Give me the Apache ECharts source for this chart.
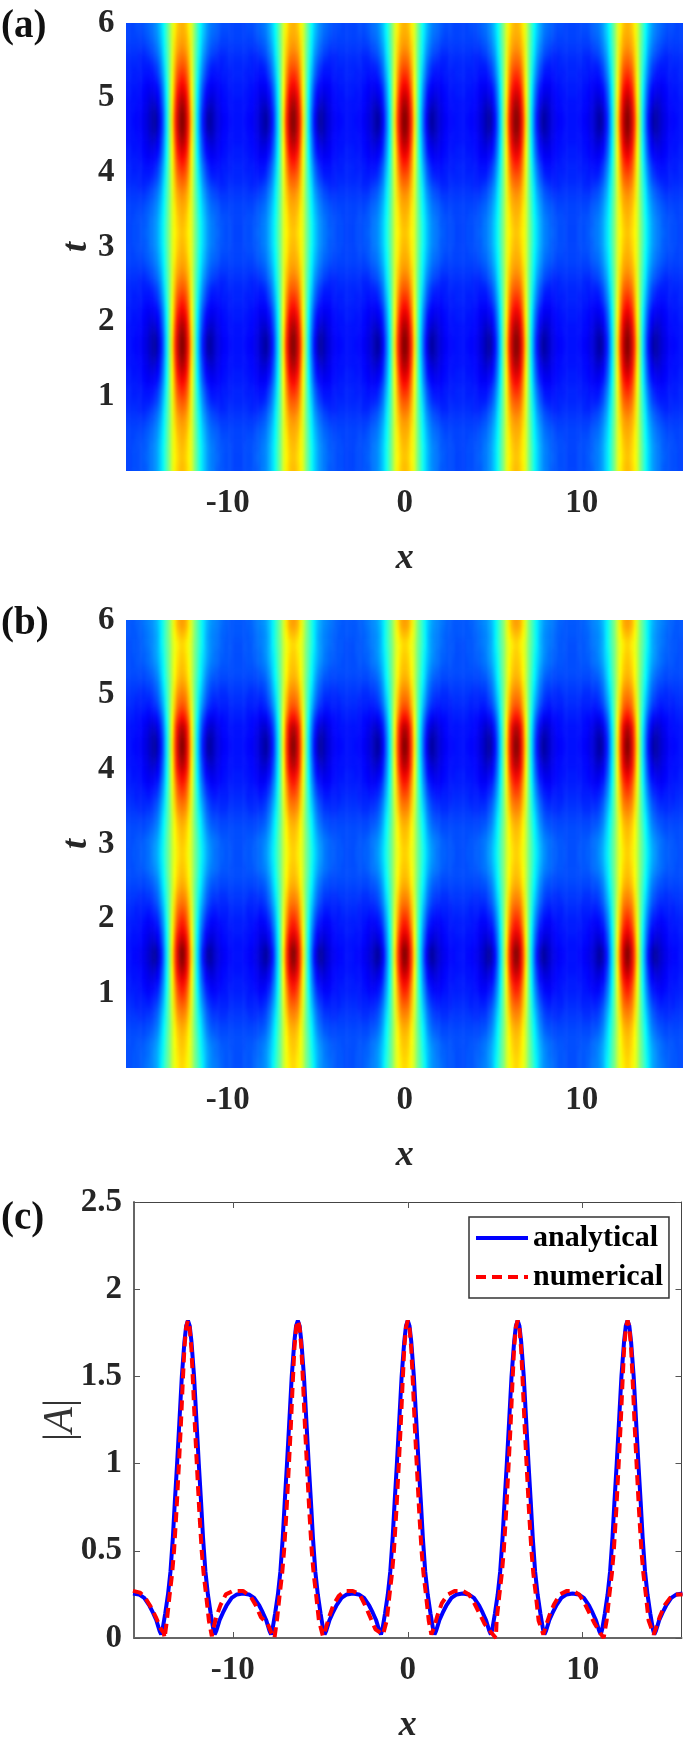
<!DOCTYPE html>
<html>
<head>
<meta charset="utf-8">
<style>
html, body { margin: 0; padding: 0; background: #fff; }
#page { position: relative; width: 685px; height: 1745px; }
#chart { position: absolute; left: 0; top: 0; width: 685px; height: 1745px; }
.clip { position: absolute; left: 126px; width: 557px; height: 448px; overflow: hidden; }
.heat { position: absolute; left: -5.5px; top: -18.5px; width: 568px; height: 485px; filter: url(#soft); }
</style>
<script src="https://cdn.jsdelivr.net/npm/echarts@6/dist/echarts.min.js"></script>
</head>
<body>
<svg width="0" height="0" style="position:absolute">
  <filter id="soft" x="0" y="0" width="100%" height="100%" color-interpolation-filters="sRGB">
    <feGaussianBlur stdDeviation="1 4"/>
  </filter>
</svg>
<div id="page">
  <div class="clip" style="top:23px"><div id="heatA" class="heat"></div></div>
  <div class="clip" style="top:620px"><div id="heatB" class="heat"></div></div>
  <div id="chart"></div>
</div>
<script>
// t of each heat row, top to bottom
var tRows = [5.94,5.81,5.69,5.56,5.44,5.31,5.19,5.06,4.94,4.81,4.69,4.56,4.44,4.31,4.19,4.06,3.94,3.81,3.69,3.56,3.44,3.31,3.19,3.06,2.94,2.81,2.69,2.56,2.44,2.31,2.19,2.06,1.94,1.81,1.69,1.56,1.44,1.31,1.19,1.06,0.94,0.81,0.69,0.56,0.44,0.31,0.19,0.06];

// heat level (0-100 on the jet scale), one row per t,
// going from a peak centre out to half way to the next peak
var heatA = [
[70,68,64,59,51,44,38,33,29,26,24,23,22,21,20,20,20,19,19,19],
[71,70,65,59,51,44,37,32,28,25,23,22,21,20,19,19,19,19,19,19],
[73,71,67,59,50,43,36,30,26,23,21,20,19,18,18,18,18,18,18,18],
[76,74,68,60,50,42,35,28,24,21,19,18,17,16,16,16,17,17,17,17],
[79,77,70,60,50,41,33,26,21,18,16,15,15,15,15,16,16,16,16,16],
[83,80,72,61,50,40,31,24,19,16,14,14,14,14,15,15,15,15,16,16],
[87,83,74,62,50,38,29,21,16,13,12,12,12,13,14,14,15,15,15,15],
[91,87,76,63,50,37,27,19,13,11,10,10,11,12,13,14,14,14,15,15],
[95,90,79,64,50,36,26,17,11,8,7,8,10,11,13,13,14,14,14,14],
[98,92,81,65,50,35,24,15,8,4,4,6,9,10,12,13,13,14,14,14],
[99,93,82,66,50,35,24,14,7,2,3,6,8,10,11,12,13,13,14,14],
[98,92,81,65,50,35,24,15,8,4,4,6,9,10,12,13,13,14,14,14],
[95,90,79,64,50,36,26,17,11,8,7,8,10,11,13,13,14,14,14,14],
[91,87,76,63,50,37,27,19,13,11,10,10,11,12,13,14,14,14,15,15],
[87,83,74,62,50,38,29,21,16,13,12,12,12,13,14,14,15,15,15,15],
[83,80,72,61,50,40,31,24,19,16,14,14,14,14,15,15,15,15,16,16],
[79,77,70,60,50,41,33,26,21,18,16,15,15,15,15,16,16,16,16,16],
[76,74,68,60,50,42,35,28,24,21,19,18,17,16,16,16,17,17,17,17],
[73,71,67,59,50,43,36,30,26,23,21,20,19,18,18,18,18,18,18,18],
[71,70,65,59,51,44,37,32,28,25,23,22,21,20,19,19,19,19,19,19],
[70,68,64,59,51,44,38,33,29,26,24,23,22,21,20,20,20,19,19,19],
[69,67,64,59,51,45,39,34,30,27,25,24,22,21,21,20,20,20,19,19],
[68,66,63,59,51,45,39,34,30,27,25,24,23,22,21,20,20,20,19,19],
[69,67,64,59,51,45,39,34,30,27,25,24,22,21,21,20,20,20,19,19],
[70,68,64,59,51,44,38,33,29,26,24,23,22,21,20,20,20,19,19,19],
[71,70,65,59,51,44,37,32,28,25,23,22,21,20,19,19,19,19,19,19],
[73,71,67,59,50,43,36,30,26,23,21,20,19,18,18,18,18,18,18,18],
[76,74,68,60,50,42,35,28,24,21,19,18,17,16,16,16,17,17,17,17],
[79,77,70,60,50,41,33,26,21,18,16,15,15,15,15,16,16,16,16,16],
[83,80,72,61,50,40,31,24,19,16,14,14,14,14,15,15,15,15,16,16],
[87,83,74,62,50,38,29,21,16,13,12,12,12,13,14,14,15,15,15,15],
[91,87,76,63,50,37,27,19,13,11,10,10,11,12,13,14,14,14,15,15],
[95,90,79,64,50,36,26,17,11,8,7,8,10,11,13,13,14,14,14,14],
[98,92,81,65,50,35,24,15,8,4,4,6,9,10,12,13,13,14,14,14],
[99,93,82,66,50,35,24,14,7,2,3,6,8,10,11,12,13,13,14,14],
[98,92,81,65,50,35,24,15,8,4,4,6,9,10,12,13,13,14,14,14],
[95,90,79,64,50,36,26,17,11,8,7,8,10,11,13,13,14,14,14,14],
[91,87,76,63,50,37,27,19,13,11,10,10,11,12,13,14,14,14,15,15],
[87,83,74,62,50,38,29,21,16,13,12,12,12,13,14,14,15,15,15,15],
[83,80,72,61,50,40,31,24,19,16,14,14,14,14,15,15,15,15,16,16],
[79,77,70,60,50,41,33,26,21,18,16,15,15,15,15,16,16,16,16,16],
[76,74,68,60,50,42,35,28,24,21,19,18,17,16,16,16,17,17,17,17],
[73,71,67,59,50,43,36,30,26,23,21,20,19,18,18,18,18,18,18,18],
[71,70,65,59,51,44,37,32,28,25,23,22,21,20,19,19,19,19,19,19],
[70,68,64,59,51,44,38,33,29,26,24,23,22,21,20,20,20,19,19,19],
[69,67,64,59,51,45,39,34,30,27,25,24,22,21,21,20,20,20,19,19],
[68,66,63,59,51,45,39,34,30,27,25,24,23,22,21,20,20,20,19,19],
[69,67,64,59,51,45,39,34,30,27,25,24,22,21,21,20,20,20,19,19]
];

// same for panel b
var heatB = [
[72,70,65,58,51,46,41,36,32,29,27,26,25,24,23,22,22,21,21,21],
[69,67,63,58,51,46,41,36,31,28,26,25,24,23,22,22,21,21,21,21],
[66,64,61,57,50,46,41,36,31,28,26,25,24,23,22,21,21,21,20,20],
[67,65,61,57,50,45,40,35,31,28,26,24,23,22,22,21,21,21,20,20],
[68,66,62,57,50,45,39,34,30,27,25,24,23,22,21,21,21,20,20,20],
[69,67,63,57,50,44,38,33,28,25,23,22,21,20,20,20,20,20,20,20],
[71,69,64,57,49,43,37,31,26,23,21,20,20,19,19,19,19,19,19,19],
[74,72,66,58,49,42,35,29,24,21,19,18,18,17,17,17,18,18,18,18],
[77,75,68,59,49,41,33,27,22,19,17,16,16,16,16,16,16,17,17,17],
[81,78,70,60,49,40,31,24,19,16,15,14,14,15,15,15,15,16,16,16],
[87,83,74,62,49,38,28,20,15,12,11,11,12,13,13,14,14,15,15,15],
[94,89,78,63,49,36,26,17,11,8,7,8,10,11,13,13,14,14,14,14],
[97,91,79,64,49,35,24,15,8,4,4,6,9,10,12,13,13,14,14,14],
[99,92,80,65,49,35,24,14,7,2,3,6,8,10,11,12,13,13,14,14],
[97,91,79,64,49,35,24,15,8,4,4,6,9,10,12,13,13,14,14,14],
[94,89,78,63,49,36,26,17,11,8,7,8,10,11,13,13,14,14,14,14],
[89,85,75,62,49,37,27,19,13,11,10,10,11,12,13,14,14,14,15,15],
[85,81,72,61,49,38,29,22,16,14,12,12,12,13,14,14,15,15,15,15],
[81,78,70,60,49,40,31,24,19,16,15,14,14,15,15,15,15,16,16,16],
[77,75,68,59,49,41,33,27,22,19,17,16,16,16,16,16,16,17,17,17],
[74,72,66,58,49,42,35,29,24,21,19,18,18,17,17,17,18,18,18,18],
[71,69,64,57,49,43,37,31,26,23,21,20,20,19,19,19,19,19,19,19],
[69,67,63,57,50,44,38,33,28,25,23,22,21,20,20,20,20,20,20,20],
[68,66,62,57,50,45,39,34,30,27,25,24,23,22,21,21,21,20,20,20],
[67,65,61,57,50,45,40,35,31,28,26,24,23,22,22,21,21,21,20,20],
[67,65,61,57,50,45,40,35,31,28,26,24,23,22,22,21,21,21,20,20],
[68,66,62,57,50,45,39,34,30,27,25,24,23,22,21,21,21,20,20,20],
[69,67,63,57,50,44,38,33,28,25,23,22,21,20,20,20,20,20,20,20],
[71,69,64,57,49,43,37,31,26,23,21,20,20,19,19,19,19,19,19,19],
[74,72,66,58,49,42,35,29,24,21,19,18,18,17,17,17,18,18,18,18],
[77,75,68,59,49,41,33,27,22,19,17,16,16,16,16,16,16,17,17,17],
[81,78,70,60,49,40,31,24,19,16,15,14,14,15,15,15,15,16,16,16],
[85,81,72,61,49,38,29,22,16,14,12,12,12,13,14,14,15,15,15,15],
[89,85,75,62,49,37,27,19,13,11,10,10,11,12,13,14,14,14,15,15],
[94,89,78,63,49,36,26,17,11,8,7,8,10,11,13,13,14,14,14,14],
[99,92,80,65,49,35,24,14,7,2,3,6,8,10,11,12,13,13,14,14],
[98,91,80,65,49,35,24,14,7,3,3,6,8,10,11,12,13,13,14,14],
[94,89,78,63,49,36,26,17,11,8,7,8,10,11,13,13,14,14,14,14],
[89,85,75,62,49,37,27,19,13,11,10,10,11,12,13,14,14,14,15,15],
[85,81,72,61,49,38,29,22,16,14,12,12,12,13,14,14,15,15,15,15],
[81,78,70,60,49,40,31,24,19,16,15,14,14,15,15,15,15,16,16,16],
[77,75,68,59,49,41,33,27,22,19,17,16,16,16,16,16,16,17,17,17],
[74,72,66,58,49,42,35,29,24,21,19,18,18,17,17,17,18,18,18,18],
[71,69,64,57,49,43,37,31,26,23,21,20,20,19,19,19,19,19,19,19],
[69,67,63,57,50,44,38,33,28,25,23,22,21,20,20,20,20,20,20,20],
[68,66,62,57,50,45,39,34,30,27,25,24,23,22,21,21,21,20,20,20],
[67,65,61,57,50,45,40,35,31,28,26,24,23,22,22,21,21,21,20,20],
[66,64,61,57,50,46,41,36,31,28,26,25,24,23,22,21,21,21,20,20]
];

// panel c, analytical curve: distance from a peak and |A| there
var peakCentres = [-12.566, -6.283, 0, 6.283, 12.566];
var analyticalOffset = [0,0.1,0.2,0.35,0.5,0.62,0.75,0.86,1,1.14,1.3,1.45,1.53,1.62,1.8,2,2.2,2.5,2.8,3.14];
var analyticalValue = [1.82,1.79,1.7,1.5,1.22,1,0.78,0.58,0.38,0.25,0.14,0.05,0.02,0.04,0.1,0.145,0.185,0.23,0.25,0.255];

// panel c, numerical curve
var numericalX = [-15.71,-15.3,-15,-14.7,-14.4,-14.1,-13.95,-13.9,-13.77,-13.62,-13.47,-13.36,-13.22,-13.08,-12.97,-12.87,-12.77,-12.67,-12.57,-12.47,-12.37,-12.27,-12.17,-12.06,-11.92,-11.78,-11.67,-11.52,-11.37,-11.2,-11.15,-10.95,-10.7,-10.4,-10,-9.42,-9,-8.7,-8.4,-8,-7.8,-7.62,-7.48,-7.33,-7.18,-7.07,-6.93,-6.79,-6.68,-6.58,-6.48,-6.38,-6.28,-6.18,-6.08,-5.98,-5.88,-5.77,-5.63,-5.49,-5.38,-5.23,-5.08,-4.85,-4.7,-4.5,-4.25,-3.95,-3.6,-3.14,-2.75,-2.45,-2.15,-1.85,-1.41,-1.2,-1.05,-0.9,-0.79,-0.65,-0.51,-0.4,-0.3,-0.2,-0.1,0,0.1,0.2,0.3,0.4,0.51,0.65,0.79,0.9,1.05,1.2,1.35,1.5,1.7,1.95,2.3,2.7,3.14,3.5,3.8,4.1,4.4,4.7,5.04,5.08,5.23,5.38,5.49,5.63,5.77,5.88,5.98,6.08,6.18,6.28,6.38,6.48,6.58,6.68,6.79,6.93,7.07,7.18,7.33,7.48,7.75,7.9,8.1,8.35,8.7,9.1,9.42,9.8,10.1,10.4,10.7,11,11.2,11.37,11.52,11.67,11.78,11.92,12.06,12.17,12.27,12.37,12.47,12.57,12.67,12.77,12.87,12.97,13.08,13.22,13.36,13.47,13.62,13.77,14.06,14.2,14.4,14.7,15,15.3,15.71];
var numericalY = [0.27,0.26,0.23,0.18,0.12,0.05,0.03,0,0.1,0.24,0.37,0.5,0.73,1,1.22,1.45,1.66,1.78,1.82,1.78,1.66,1.45,1.22,1,0.73,0.5,0.37,0.24,0.1,0.01,0.04,0.12,0.19,0.25,0.27,0.27,0.24,0.19,0.12,0.08,0.03,0,0.1,0.24,0.37,0.5,0.73,1,1.22,1.45,1.66,1.78,1.82,1.78,1.66,1.45,1.22,1,0.73,0.5,0.37,0.24,0.1,0.01,0.05,0.12,0.19,0.24,0.27,0.27,0.25,0.19,0.12,0.05,0.02,0.1,0.24,0.37,0.5,0.73,1,1.22,1.45,1.66,1.78,1.82,1.78,1.66,1.45,1.22,1,0.73,0.5,0.37,0.24,0.1,0.02,0.06,0.13,0.2,0.25,0.27,0.27,0.25,0.2,0.14,0.08,0.04,0,0.1,0.24,0.37,0.5,0.73,1,1.22,1.45,1.66,1.78,1.82,1.78,1.66,1.45,1.22,1,0.73,0.5,0.37,0.24,0.1,0.02,0.07,0.13,0.19,0.25,0.27,0.27,0.25,0.2,0.14,0.08,0.03,0,0.1,0.24,0.37,0.5,0.73,1,1.22,1.45,1.66,1.78,1.82,1.78,1.66,1.45,1.22,1,0.73,0.5,0.37,0.24,0.1,0.02,0.06,0.12,0.19,0.23,0.25,0.25];

var xTicks = [-10, 0, 10];
var jet = ['#00008f','#0000ff','#0080ff','#00ffff','#80ff80','#ffff00','#ff8000','#ff0000','#800000'];

var serif = '"Liberation Serif", serif';
var tickColor = '#262626';
var edgePad = 2; // cells drawn past the clip on each side, so the blur has no fading rim

// 5 identical periods across x, each row mirrored about its peak
function buildCells(rows) {
    var cells = [];
    var padded = [];
    for (var p = 0; p < edgePad; p++) padded.push(rows[0]);
    padded = padded.concat(rows);
    for (var q = 0; q < edgePad; q++) padded.push(rows[rows.length - 1]);
    padded.forEach(function (half, r) {
        var period = half.slice().reverse().concat(half);
        var line = [];
        peakCentres.forEach(function () { line = line.concat(period); });
        line = line.slice(-edgePad).concat(line).concat(line.slice(0, edgePad));
        line.forEach(function (v, col) {
            cells.push([col, padded.length - 1 - r, v]);
        });
    });
    return cells;
}

function analyticalLine() {
    var pts = [];
    peakCentres.forEach(function (c) {
        for (var i = analyticalOffset.length - 1; i > 0; i--) {
            pts.push([c - analyticalOffset[i], analyticalValue[i]]);
        }
        for (var j = 0; j < analyticalOffset.length; j++) {
            pts.push([c + analyticalOffset[j], analyticalValue[j]]);
        }
    });
    return pts;
}

var colCount = heatA[0].length * 2 * peakCentres.length + edgePad * 2;
var rowCount = tRows.length + edgePad * 2;
var xCells = [];
var yCells = [];
for (var i = 0; i < colCount; i++) xCells.push(i);
for (var k = 0; k < rowCount; k++) yCells.push(k);

// heat panels sit in their own charts, softened by the svg filter above
function drawHeat(id, rows) {
    var heat = echarts.init(document.getElementById(id), null, { renderer: 'canvas' });
    heat.setOption({
        animation: false,
        grid: { left: 0, right: 0, top: 0, bottom: 0 },
        xAxis: { type: 'category', data: xCells, show: false },
        yAxis: { type: 'category', data: yCells, show: false },
        visualMap: {
            show: false, type: 'continuous', dimension: 2,
            min: 0, max: 100, inRange: { color: jet }
        },
        series: [{
            type: 'heatmap', data: buildCells(rows),
            progressive: 0, emphasis: { disabled: true }
        }]
    });
}
drawHeat('heatA', heatA);
drawHeat('heatB', heatB);

function tickLabelStyle(margin) {
    return {
        fontFamily: serif, fontWeight: 'bold', fontSize: 33, color: tickColor, margin: margin
    };
}

function nameStyle() {
    return { fontFamily: serif, fontWeight: 'bold', fontStyle: 'italic', fontSize: 36, color: tickColor };
}

function heatXAxis(gridIndex) {
    return {
        type: 'value', gridIndex: gridIndex, position: 'bottom', min: -15.71, max: 15.71,
        splitLine: { show: false }, axisLine: { show: false }, axisTick: { show: false },
        axisLabel: Object.assign(tickLabelStyle(16), { customValues: xTicks }),
        name: 'x', nameLocation: 'middle', nameGap: 70, nameTextStyle: nameStyle()
    };
}

function heatYAxis(gridIndex) {
    return {
        type: 'value', gridIndex: gridIndex, position: 'left', min: 0, max: 6, interval: 1,
        splitLine: { show: false }, axisLine: { show: false }, axisTick: { show: false },
        axisLabel: Object.assign(tickLabelStyle(12), { showMinLabel: false }),
        name: 't', nameLocation: 'middle', nameGap: 32, nameMoveOverlap: false, nameTextStyle: nameStyle()
    };
}

var xAxes = [
    heatXAxis(0),
    heatXAxis(1),
    {
        type: 'value', gridIndex: 2, position: 'bottom', min: -15.65, max: 15.65,
        splitLine: { show: false },
        axisLine: { onZero: false, lineStyle: { color: '#666', width: 2 } },
        axisTick: { inside: true, length: 6, lineStyle: { color: '#555' }, customValues: xTicks },
        axisLabel: Object.assign(tickLabelStyle(16), { customValues: xTicks }),
        name: 'x', nameLocation: 'middle', nameGap: 70, nameTextStyle: nameStyle()
    },
    {
        type: 'value', gridIndex: 2, position: 'top', min: -15.65, max: 15.65,
        splitLine: { show: false }, axisLabel: { show: false },
        axisLine: { onZero: false, lineStyle: { color: '#444', width: 1 } },
        axisTick: { inside: true, length: 6, lineStyle: { color: '#555' }, customValues: xTicks }
    }
];

var yAxes = [
    heatYAxis(0),
    heatYAxis(1),
    {
        type: 'value', gridIndex: 2, position: 'left', min: 0, max: 2.5, interval: 0.5,
        splitLine: { show: false },
        axisLine: { onZero: false, lineStyle: { color: '#666', width: 2 } },
        axisTick: { inside: true, length: 6, lineStyle: { color: '#555' } },
        axisLabel: tickLabelStyle(12),
        name: '{bar||}{a|A}{bar||}', nameLocation: 'middle', nameGap: 52, nameMoveOverlap: false,
        nameTextStyle: {
            rich: {
                bar: { fontFamily: serif, fontSize: 42, color: '#333' },
                a: { fontFamily: serif, fontStyle: 'italic', fontSize: 42, color: '#333' }
            }
        }
    },
    {
        type: 'value', gridIndex: 2, position: 'right', min: 0, max: 2.5, interval: 0.5,
        splitLine: { show: false }, axisLabel: { show: false },
        axisLine: { onZero: false, lineStyle: { color: '#444', width: 1 } },
        axisTick: { inside: true, length: 6, lineStyle: { color: '#555' } }
    }
];

function panelLabel(text, y) {
    return {
        type: 'text', left: 1, top: y,
        style: { text: text, fontFamily: serif, fontWeight: 'bold', fontSize: 39, fill: '#111' }
    };
}

var chart = echarts.init(document.getElementById('chart'), null, { renderer: 'canvas' });
chart.setOption({
    animation: false,
    backgroundColor: 'transparent',
    grid: [
        { left: 126.5, top: 23, width: 556.5, height: 448 },
        { left: 126.5, top: 620, width: 556.5, height: 448 },
        { left: 134, top: 1202, width: 547.5, height: 447 }
    ],
    xAxis: xAxes,
    yAxis: yAxes,
    legend: {
        show: true, left: 469, top: 1217, orient: 'vertical',
        data: ['analytical', 'numerical'],
        itemWidth: 52, itemHeight: 14, itemGap: 9,
        padding: [6, 6, 6, 5],
        borderColor: '#333', borderWidth: 1.5, backgroundColor: '#fff',
        itemStyle: { opacity: 0 },
        lineStyle: { width: 4 },
        textStyle: { fontFamily: serif, fontWeight: 'bold', fontSize: 30, color: '#000' }
    },
    graphic: [
        panelLabel('(a)', 7),
        panelLabel('(b)', 604),
        panelLabel('(c)', 1199)
    ],
    series: [
        {
            name: 'analytical', type: 'line', xAxisIndex: 2, yAxisIndex: 2,
            data: analyticalLine(), showSymbol: false, symbol: 'none',
            lineStyle: { color: '#0000ff', width: 4 }, itemStyle: { color: '#0000ff' }
        },
        {
            name: 'numerical', type: 'line', xAxisIndex: 2, yAxisIndex: 2,
            data: numericalX.map(function (x, i) { return [x, numericalY[i]]; }),
            showSymbol: false, symbol: 'none',
            lineStyle: { color: '#ff0000', width: 4, type: [10, 6] }, itemStyle: { color: '#ff0000' }
        }
    ]
});
</script>
</body>
</html>
